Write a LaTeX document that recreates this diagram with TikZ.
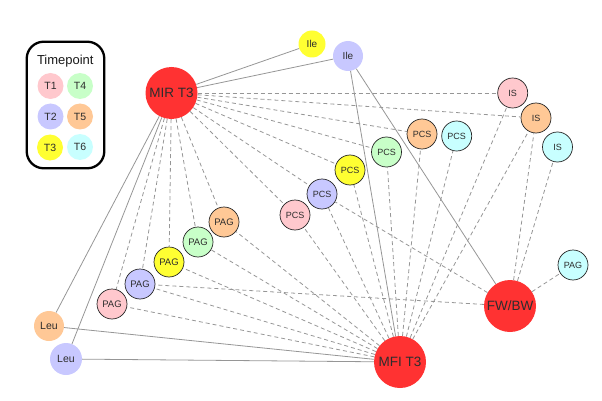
\documentclass[tikz,border=0pt]{standalone}
\usepackage{fontspec}
\setmainfont{Liberation Sans}
\definecolor{cP}{RGB}{255,200,205}
\definecolor{cB}{RGB}{200,200,255}
\definecolor{cY}{RGB}{255,255,50}
\definecolor{cG}{RGB}{200,255,200}
\definecolor{cO}{RGB}{255,200,150}
\definecolor{cC}{RGB}{200,255,255}
\definecolor{cR}{RGB}{255,50,50}
\definecolor{edgec}{RGB}{150,150,150}
\definecolor{txt}{RGB}{45,45,45}
\tikzset{
  met/.style={circle, minimum size=30pt, inner sep=0pt, draw=black!85, line width=0.7pt, text=txt, font=\fontsize{9}{9}\selectfont},
  pag/.style={met, font=\fontsize{9.5}{9.5}\selectfont},
  amino/.style={circle, minimum size=30pt, inner sep=0pt, text=txt, font=\fontsize{10.5}{10.5}\selectfont},
  big/.style={circle, fill=cR, minimum size=52pt, inner sep=0pt, text=txt, font=\fontsize{13.5}{13.5}\selectfont},
  leg/.style={circle, minimum size=26pt, inner sep=0pt, text=txt, font=\fontsize{10.5}{10.5}\selectfont},
  sol/.style={draw=edgec, line width=0.8pt},
  dsh/.style={draw=edgec, line width=0.8pt, dash pattern=on 4pt off 3pt},
}
\begin{document}
\begin{tikzpicture}[x=1pt,y=-1pt]
\useasboundingbox (0,0) rectangle (602,401);
% legend
\draw[line width=2.3pt, rounded corners=17pt] (26.7,41.7) rectangle (104.3,168.3);
\node[font=\fontsize{13}{13}\selectfont, text=black!90] (title) at (65.3,61) {Timepoint};
\node[leg, fill=cP] (l1) at (50.5,86) {T1};
\node[leg, fill=cG] (l4) at (80,86) {T4};
\node[leg, fill=cB] (l2) at (50.5,116.5) {T2};
\node[leg, fill=cO] (l5) at (80,116.5) {T5};
\node[leg, fill=cY] (l3) at (50,147.5) {T3};
\node[leg, fill=cC] (l6) at (80,147) {T6};
% big nodes
\node[big] (mir) at (171.5,93) {MIR T3};
\node[big] (mfi) at (400,362) {MFI T3};
\node[big] (fw) at (510,306) {FW/BW};
% amino
\node[amino, fill=cY, minimum size=27pt, font=\fontsize{10}{10}\selectfont] (ileY) at (312,44) {Ile};
\node[amino, fill=cB, font=\fontsize{10}{10}\selectfont] (ileB) at (348,56) {Ile};
\node[amino, fill=cO] (leuO) at (49,326) {Leu};
\node[amino, fill=cB, minimum size=32pt] (leuB) at (66,359) {Leu};
% IS
\node[met, fill=cP] (isP) at (512.7,93) {IS};
\node[met, fill=cO] (isO) at (536,118) {IS};
\node[met, fill=cC] (isC) at (557.5,147) {IS};
% PCS
\node[met, fill=cO] (pcsO) at (422,134) {PCS};
\node[met, fill=cC] (pcsC) at (456.7,136) {PCS};
\node[met, fill=cG] (pcsG) at (386.5,152) {PCS};
\node[met, fill=cY] (pcsY) at (350,170) {PCS};
\node[met, fill=cB] (pcsB) at (322,194) {PCS};
\node[met, fill=cP] (pcsP) at (295,215) {PCS};
% PAG
\node[pag, fill=cO] (pagO) at (224,222) {PAG};
\node[pag, fill=cG] (pagG) at (198,242) {PAG};
\node[pag, fill=cY] (pagY) at (169,262) {PAG};
\node[pag, fill=cB] (pagB) at (140,284) {PAG};
\node[pag, fill=cP] (pagP) at (112,304) {PAG};
\node[met, fill=cC] (pagC) at (573,265) {PAG};
% solid edges
\foreach \a/\b in {mir/ileY, mir/ileB, mir/leuO, mir/leuB, ileB/mfi, ileB/fw, leuO/mfi, leuB/mfi}
  \path[sol] (\a) -- (\b);
% dashed edges
\foreach \b in {isP, isO, pcsO, pcsG, pcsY, pcsB, pcsP, pagO, pagG, pagY, pagB, pagP}
  \path[dsh] (mir) -- (\b);
\foreach \b in {pagO, pagG, pagY, pagB, pagP, pcsP, pcsB, pcsY, pcsG, pcsO, pcsC, isP, isO}
  \path[dsh] (mfi) -- (\b);
\foreach \b in {pagB, pcsB, isO, isC, pagC}
  \path[dsh] (fw) -- (\b);
\end{tikzpicture}
\end{document}
